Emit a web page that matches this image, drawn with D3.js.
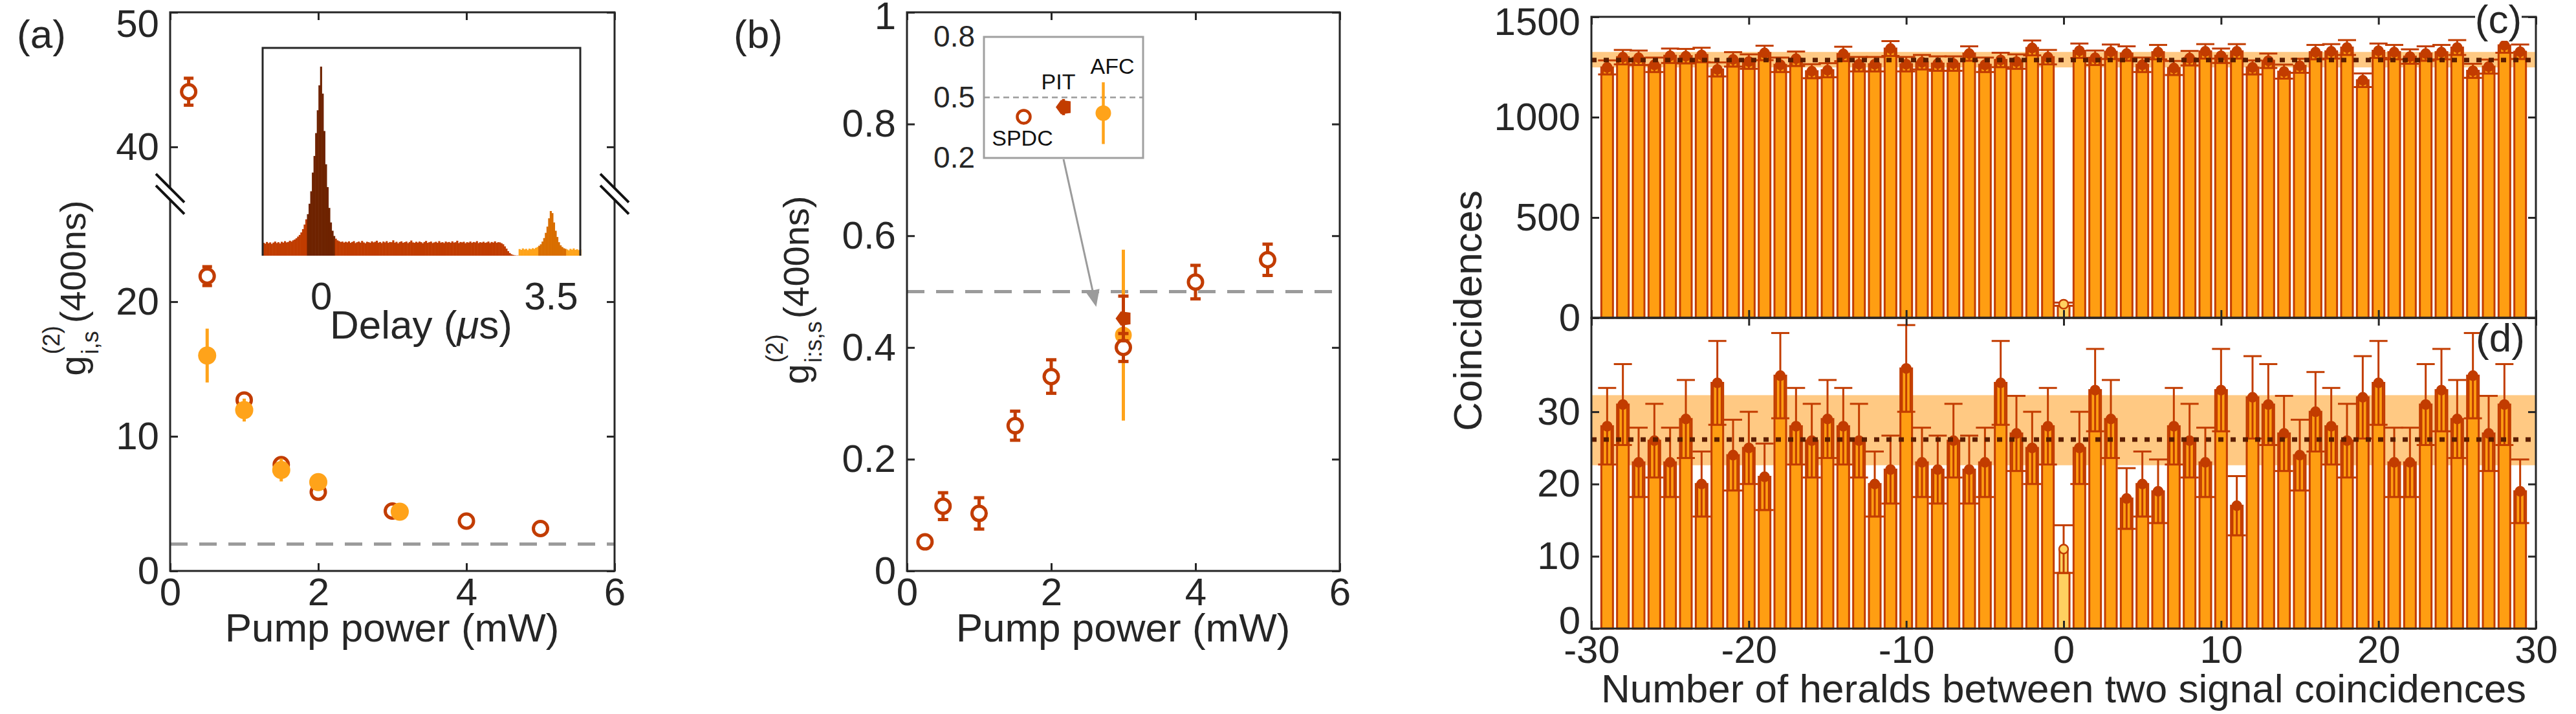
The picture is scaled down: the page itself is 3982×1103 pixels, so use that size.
<!DOCTYPE html>
<html>
<head>
<meta charset="utf-8">
<style>
body { margin: 0; background: #fff; width: 3982px; height: 1103px; overflow: hidden; }
svg { display: block; font-family: "Liberation Sans", Arial, Helvetica, sans-serif; }
</style>
</head>
<body>
<svg width="3982" height="1103"></svg>
<script src="https://d3js.org/d3.v7.min.js"></script>
<script>

// ---------------- data: panel (a) heralded g2 vs pump power
var powerSpdcA = [0.25, 0.5, 1, 1.5, 2, 3, 4, 5];
var g2SpdcA    = [44.1, 21.9, 12.7, 7.9, 5.85, 4.45, 3.7, 3.15];
var errSpdcA   = [1.0, 0.7, 0.3, 0.2, 0.15, 0.1, 0.08, 0.07];
var powerAfcA  = [0.5, 1, 1.5, 2, 3.1];
var g2AfcA     = [16.0, 11.95, 7.5, 6.6, 4.4];
var errAfcA    = [2.0, 0.85, 0.85, 0.3, 0.15];
var yTicksA    = [0, 10, 20, 40, 50];
var xTicksAB   = [0, 2, 4, 6];
var breakA     = [28, 36.5];   // y axis break
var classicA   = 2;            // dashed reference level

// inset of (a): delay histogram (counts, top of frame = 1000)
var histStart = -0.89, histStep = 0.025;
var histCounts = [
  62, 58, 66, 60, 64, 57, 63, 68, 61, 65, 59, 67, 63, 70, 64, 66, 72, 68, 74, 78, 84, 92,
  100, 112, 128, 150, 175,
  200, 250, 310, 400, 480, 590, 700, 820, 910, 780, 600, 440, 330, 230, 160, 120, 95,
  82, 74, 70, 66, 68, 63, 67, 64, 69, 62,
  66, 70, 61, 65, 68, 63, 71, 64, 60, 67,
  65, 62, 69, 64, 67, 72, 63, 66, 61, 68,
  64, 70, 62, 66, 65, 74, 63, 67, 60, 66,
  69, 62, 65, 68, 61, 66, 73, 64, 62, 67,
  63, 68, 65, 60, 66, 71, 62, 65, 68, 61,
  64, 67, 62, 70, 63, 65, 61, 68, 64, 66,
  62, 69, 63, 65, 72, 61, 66, 64, 67, 60,
  65, 63, 68, 62, 66, 64, 70, 61, 65, 63,
  67, 62, 64, 68, 61, 66, 63, 69, 62, 65, 64, 60,
  55, 45, 34, 22, 13, 7, 4, 2, 1, 1,
  32, 28, 35, 30, 33, 27, 34, 31, 36, 33, 38, 42,
  48, 55, 68, 85, 110, 140, 180, 215, 205, 160, 120, 90, 65, 50, 42, 36, 33,
  30, 26, 33, 29, 35, 28, 31, 27, 30
];
var histBands = [
  {from: -0.9,   to: -0.215, color: "#c03c00"},
  {from: -0.215, to: 0.21,   color: "#6e2300"},
  {from: 0.21,   to: 3.0,    color: "#c03c00"},
  {from: 3.0,    to: 3.31,   color: "#ffa41b"},
  {from: 3.31,   to: 3.735,  color: "#d96e00"},
  {from: 3.735,  to: 4.0,    color: "#ffa41b"}
];
var histTicks = [0, 3.5];

// ---------------- data: panel (b) cross-correlation g2 vs pump power
var powerSpdcB = [0.25, 0.5, 1, 1.5, 2, 3, 4, 5];
var g2SpdcB    = [0.052, 0.116, 0.103, 0.26, 0.348, 0.40, 0.517, 0.557];
var errSpdcB   = [0.006, 0.024, 0.028, 0.026, 0.03, 0.025, 0.03, 0.028];
var sourcesB   = ["SPDC", "PIT", "AFC"];
var powerSrcB  = [3, 3, 3];
var g2SrcB     = [0.404, 0.452, 0.422];
var errSrcB    = [0.01, 0.04, 0.153];
var yTicksB    = [0, 0.2, 0.4, 0.6, 0.8, 1];
var insetTicksB = [0.2, 0.5, 0.8];
var limitB     = 0.5;

// ---------------- data: panels (c),(d) coincidences vs heralds
var heraldOffsets = [-29, -28, -27, -26, -25, -24, -23, -22, -21, -20, -19, -18, -17, -16, -15,
  -14, -13, -12, -11, -10, -9, -8, -7, -6, -5, -4, -3, -2, -1, 0, 1, 2, 3, 4, 5, 6, 7, 8, 9,
  10, 11, 12, 13, 14, 15, 16, 17, 18, 19, 20, 21, 22, 23, 24, 25, 26, 27, 28, 29];
var countsC = [1248, 1299, 1296, 1261, 1306, 1304, 1310, 1238, 1288, 1277, 1320, 1261, 1291, 1229, 1234,
  1315, 1264, 1264, 1342, 1264, 1274, 1267, 1267, 1317, 1261, 1285, 1277, 1345, 1299, 68,
  1331, 1296, 1326, 1317, 1261, 1324, 1245, 1294, 1328, 1306, 1328, 1248, 1281, 1227, 1256,
  1324, 1328, 1347, 1184, 1331, 1324, 1302, 1317, 1324, 1347, 1231, 1252, 1358, 1326];
var errC = [35, 36, 36, 36, 36, 36, 36, 35, 36, 36, 36, 36, 36, 35, 35,
  36, 36, 36, 37, 36, 36, 36, 36, 36, 36, 36, 36, 37, 36, 8,
  36, 36, 36, 36, 36, 36, 35, 36, 36, 36, 36, 35, 36, 35, 35,
  36, 36, 37, 34, 36, 36, 36, 36, 36, 37, 35, 35, 37, 36];
var countsD = [28, 31, 23, 26, 23, 29, 20, 34, 24, 25, 21, 35, 28, 26, 29,
  28, 26, 20, 22, 36, 23, 22, 26, 22, 23, 34, 27, 25, 28, 11,
  25, 33, 29, 18, 20, 19, 28, 26, 23, 33, 17, 32, 31, 27, 24,
  30, 28, 26, 32, 34, 23, 23, 31, 33, 29, 35, 27, 31, 19];
var errD = [5.3, 5.6, 4.8, 5.1, 4.8, 5.4, 4.5, 5.8, 4.9, 5.0, 4.6, 5.9, 5.3, 5.1, 5.4,
  5.3, 5.1, 4.5, 4.7, 6.0, 4.8, 4.7, 5.1, 4.7, 4.8, 5.8, 5.2, 5.0, 5.3, 3.3,
  5.0, 5.7, 5.4, 4.2, 4.5, 4.4, 5.3, 5.1, 4.8, 5.7, 4.1, 5.7, 5.6, 5.2, 4.9,
  5.5, 5.3, 5.1, 5.7, 5.8, 4.8, 4.8, 5.6, 5.7, 5.4, 5.9, 5.2, 5.6, 4.4];
var meanC = 1285, bandC = [1248, 1325];
var meanD = 26.15, bandD = [22.6, 32.3];
var xTicksCD = [-30, -20, -10, 0, 10, 20, 30];
var yTicksC  = [0, 500, 1000, 1500];
var yTicksD  = [0, 10, 20, 30];

// ---------------- style
var FONT = '"Liberation Sans", Arial, Helvetica, sans-serif';
var ink = "#262626", rust = "#c23c00", amber = "#ffa31a", barOrange = "#ff9e12",
    pale = "#ffd160", bandColor = "#ffc983", darkBrown = "#5c1d00", gray = "#9b9b9b";

var svg = d3.select("svg");

function frame(x, y, xTicks, yTicks, o) {
  o = o || {};
  var fs = o.fontSize || 60;
  var xr = x.range(), yr = y.range();
  var L = xr[0], R = xr[xr.length - 1], B = yr[0], T = yr[yr.length - 1];
  var none = function () { return ""; };
  var g = svg.append("g").style("color", ink);
  var bottom = g.append("g").attr("transform", "translate(0," + B + ")")
    .call(d3.axisBottom(x).tickValues(xTicks).tickSizeInner(-12).tickSizeOuter(0).tickPadding(10)
      .tickFormat(o.xLabels === false ? none : String));
  var left = g.append("g").attr("transform", "translate(" + L + ",0)")
    .call(d3.axisLeft(y).tickValues(yTicks).tickSizeInner(-12).tickSizeOuter(0).tickPadding(17)
      .tickFormat(String));
  g.append("g").attr("transform", "translate(0," + T + ")")
    .call(d3.axisTop(x).tickValues(xTicks).tickSizeInner(-12).tickSizeOuter(0).tickFormat(none));
  g.append("g").attr("transform", "translate(" + R + ",0)")
    .call(d3.axisRight(y).tickValues(yTicks).tickSizeInner(-12).tickSizeOuter(0).tickFormat(none));
  g.selectAll(".domain").remove();
  g.selectAll(".tick line").attr("stroke-width", 3);
  g.selectAll(".tick text").attr("font-size", fs).attr("font-family", FONT).attr("fill", ink);
  g.append("rect").attr("x", L).attr("y", T).attr("width", R - L).attr("height", B - T)
    .attr("fill", "none").attr("stroke", ink).attr("stroke-width", 3);
  return {g: g, left: left, bottom: bottom};
}

function label(x, y, txt, fs, anchor) {
  return svg.append("text").attr("x", x).attr("y", y).attr("font-size", fs)
    .attr("text-anchor", anchor || "middle").attr("fill", ink).text(txt);
}

// rotated g^(2)_sub label with stacked super/subscript
function g2Label(cx, cy, sub, rest) {
  var outer = svg.append("g").attr("transform", "translate(" + cx + "," + cy + ") rotate(-90)");
  var g = outer.append("g").attr("fill", ink);
  var t0 = g.append("text").attr("font-size", 56).text("g");
  var w0 = t0.node().getComputedTextLength();
  var sup = g.append("text").attr("font-size", 36).attr("x", w0 + 2).attr("y", -40).text("(2)");
  var sb = g.append("text").attr("font-size", 36).attr("x", w0 + 2).attr("y", 20).text(sub);
  var w1 = Math.max(sup.node().getComputedTextLength(), sb.node().getComputedTextLength());
  var t2 = g.append("text").attr("font-size", 56).attr("x", w0 + w1 + 6).text(rest);
  var total = w0 + w1 + 6 + t2.node().getComputedTextLength();
  g.attr("transform", "translate(" + (-total / 2) + ",0)");
}

function errBars(g, rows, x, y, color, width, cap) {
  g.selectAll(null).data(rows).join("line")
    .attr("x1", d => x(d.x)).attr("x2", d => x(d.x))
    .attr("y1", d => y(d.v - d.e)).attr("y2", d => y(d.v + d.e))
    .attr("stroke", color).attr("stroke-width", width);
  if (cap) {
    [-1, 1].forEach(function (s) {
      g.selectAll(null).data(rows).join("line")
        .attr("x1", d => x(d.x) - cap / 2).attr("x2", d => x(d.x) + cap / 2)
        .attr("y1", d => y(d.v + s * d.e)).attr("y2", d => y(d.v + s * d.e))
        .attr("stroke", color).attr("stroke-width", width);
    });
  }
}

function rowsOf(xs, vs, es) {
  return xs.map(function (p, i) { return {x: p, v: vs[i], e: es[i]}; });
}

// ======================= panel (a)
var xA = d3.scaleLinear().domain([0, 6]).range([263, 950]);
var yA = d3.scaleLinear().domain([0, breakA[0], breakA[1], 50]).range([882, 299.7, 299.7, 19]);
var gA = svg.append("g");

gA.append("line").attr("x1", xA(0)).attr("x2", xA(6)).attr("y1", yA(classicA)).attr("y2", yA(classicA))
  .attr("stroke", gray).attr("stroke-width", 5).attr("stroke-dasharray", "27 18");

// inset histogram
var xH = d3.scaleLinear().domain([-0.89, 3.95]).range([406, 897]);
var yH = d3.scaleLinear().domain([0, 1000]).range([395, 74]);
var binW = xH(histStep) - xH(0);
gA.selectAll(".bin").data(histCounts).join("rect")
  .attr("x", (d, i) => xH(histStart + i * histStep))
  .attr("width", binW + 0.6)
  .attr("y", d => yH(d)).attr("height", d => yH(0) - yH(d))
  .attr("fill", function (d, i) {
    var c = histStart + (i + 0.5) * histStep;
    return histBands.find(b => c >= b.from && c < b.to).color;
  });
gA.append("path")
  .attr("d", "M" + xH.range()[0] + "," + yH(0) + "V" + yH(1000) + "H" + xH.range()[1] + "V" + yH(0))
  .attr("fill", "none").attr("stroke", ink).attr("stroke-width", 3);
gA.append("g").attr("transform", "translate(0," + yH(0) + ")")
  .call(d3.axisBottom(xH).tickValues(histTicks).tickSize(0).tickPadding(40).tickFormat(String))
  .call(g => g.select(".domain").remove())
  .call(g => g.selectAll("text").attr("font-size", 60).attr("font-family", FONT).attr("fill", ink));
var dl = label(651, 523, "Delay (", 62);
dl.append("tspan").attr("font-style", "italic").text("\u03bc");
dl.append("tspan").text("s)");

// data points
var rowsSpdcA = rowsOf(powerSpdcA, g2SpdcA, errSpdcA);
var rowsAfcA = rowsOf(powerAfcA, g2AfcA, errAfcA);
errBars(gA, rowsSpdcA, xA, yA, rust, 5, 15);
gA.selectAll(".spdcA").data(rowsSpdcA).join("circle")
  .attr("cx", d => xA(d.x)).attr("cy", d => yA(d.v)).attr("r", 11)
  .attr("fill", "#fff").attr("stroke", rust).attr("stroke-width", 5);
errBars(gA, rowsAfcA, xA, yA, amber, 5, 0);
gA.selectAll(".afcA").data(rowsAfcA).join("circle")
  .attr("cx", d => xA(d.x)).attr("cy", d => yA(d.v)).attr("r", 14).attr("fill", amber);

var fA = frame(xA, yA, xTicksAB, yTicksA);
fA.left.selectAll(".tick").filter(d => d === 50).select("text").attr("dy", "0.62em");

// axis break marks
[xA(0), xA(6)].forEach(function (ax) {
  var yc = yA(breakA[0]);
  svg.append("path")
    .attr("d", "M" + (ax - 22) + "," + (yc - 31) + "L" + (ax + 22) + "," + (yc + 13) +
               "L" + (ax + 22) + "," + (yc + 31) + "L" + (ax - 22) + "," + (yc - 13) + "Z")
    .attr("fill", "#fff");
  [-9, 9].forEach(function (o) {
    svg.append("line").attr("x1", ax - 22).attr("y1", yc + o - 22).attr("x2", ax + 22).attr("y2", yc + o + 22)
      .attr("stroke", "#111").attr("stroke-width", 4);
  });
});

label(64, 74, "(a)", 62);
label(606, 991, "Pump power (mW)", 62);
g2Label(132, 445, "i,s", "(400ns)");

// ======================= panel (b)
var xB = d3.scaleLinear().domain([0, 6]).range([1402, 2071]);
var yB = d3.scaleLinear().domain([0, 1]).range([882, 19]);
var gB = svg.append("g");

gB.append("line").attr("x1", xB(0)).attr("x2", xB(6)).attr("y1", yB(limitB)).attr("y2", yB(limitB))
  .attr("stroke", gray).attr("stroke-width", 5).attr("stroke-dasharray", "27 18");

// inset
var xI = d3.scalePoint().domain(sourcesB).range([1521, 1767]).padding(1);
var yI = d3.scaleLinear().domain([0.2, 0.8]).range([244, 57]);
gB.append("rect").attr("x", 1521).attr("y", yI(0.8)).attr("width", 246).attr("height", yI(0.2) - yI(0.8))
  .attr("fill", "#fff").attr("stroke", "#a0a0a0").attr("stroke-width", 3);
gB.append("line").attr("x1", 1521).attr("x2", 1767).attr("y1", yI(limitB)).attr("y2", yI(limitB))
  .attr("stroke", gray).attr("stroke-width", 2.5).attr("stroke-dasharray", "9 6");
gB.append("g").attr("transform", "translate(1521,0)")
  .call(d3.axisLeft(yI).tickValues(insetTicksB).tickSize(0).tickPadding(14).tickFormat(String))
  .call(g => g.select(".domain").remove())
  .call(g => g.selectAll("text").attr("font-size", 46).attr("font-family", FONT).attr("fill", ink));

var pentagon = "M-12,0L-4,-11L11,-9L11,9L-4,11Z";
// AFC in inset
gB.append("line").attr("x1", xI("AFC")).attr("x2", xI("AFC"))
  .attr("y1", yI(g2SrcB[2] - errSrcB[2])).attr("y2", yI(g2SrcB[2] + errSrcB[2]))
  .attr("stroke", amber).attr("stroke-width", 4.5);
gB.append("circle").attr("cx", xI("AFC")).attr("cy", yI(g2SrcB[2])).attr("r", 12).attr("fill", amber);
gB.append("circle").attr("cx", xI("SPDC")).attr("cy", yI(g2SrcB[0])).attr("r", 10)
  .attr("fill", "#fff").attr("stroke", rust).attr("stroke-width", 4.5);
gB.append("line").attr("x1", xI("PIT")).attr("x2", xI("PIT"))
  .attr("y1", yI(g2SrcB[1] - errSrcB[1])).attr("y2", yI(g2SrcB[1] + errSrcB[1]))
  .attr("stroke", rust).attr("stroke-width", 4.5);
gB.append("path").attr("transform", "translate(" + xI("PIT") + "," + yI(g2SrcB[1]) + ")")
  .attr("d", pentagon).attr("fill", rust);
gB.append("text").attr("x", xI("SPDC") - 2).attr("y", yI(g2SrcB[0]) + 45).attr("font-size", 34)
  .attr("text-anchor", "middle").attr("fill", "#111").text("SPDC");
gB.append("text").attr("x", xI("PIT") - 8).attr("y", yI(g2SrcB[1]) - 27).attr("font-size", 34)
  .attr("text-anchor", "middle").attr("fill", "#111").text("PIT");
gB.append("text").attr("x", xI("AFC") + 14).attr("y", yI(g2SrcB[2] + errSrcB[2]) - 13).attr("font-size", 34)
  .attr("text-anchor", "middle").attr("fill", "#111").text("AFC");

// arrow from inset to the point
(function () {
  var p0 = [xI("PIT"), yI(0.2) + 2];
  var p1 = [xB(powerSrcB[1]) - 42, yB(g2SrcB[1]) - 18];
  var dx = p1[0] - p0[0], dy = p1[1] - p0[1], len = Math.sqrt(dx * dx + dy * dy);
  var ux = dx / len, uy = dy / len, bx = p1[0] - ux * 26, by = p1[1] - uy * 26;
  gB.append("line").attr("x1", p0[0]).attr("y1", p0[1]).attr("x2", bx).attr("y2", by)
    .attr("stroke", gray).attr("stroke-width", 3);
  gB.append("path").attr("d", "M" + p1[0] + "," + p1[1] + "L" + (bx - uy * 11) + "," + (by + ux * 11) +
    "L" + (bx + uy * 11) + "," + (by - ux * 11) + "Z").attr("fill", gray);
})();

// main points
var rowsSpdcB = rowsOf(powerSpdcB, g2SpdcB, errSpdcB);
gB.append("line").attr("x1", xB(powerSrcB[2])).attr("x2", xB(powerSrcB[2]))
  .attr("y1", yB(g2SrcB[2] - errSrcB[2])).attr("y2", yB(g2SrcB[2] + errSrcB[2]))
  .attr("stroke", amber).attr("stroke-width", 5);
gB.append("circle").attr("cx", xB(powerSrcB[2])).attr("cy", yB(g2SrcB[2])).attr("r", 13).attr("fill", amber);
errBars(gB, rowsSpdcB, xB, yB, rust, 5, 16);
gB.selectAll(".spdcB").data(rowsSpdcB).join("circle")
  .attr("cx", d => xB(d.x)).attr("cy", d => yB(d.v)).attr("r", 11)
  .attr("fill", "#fff").attr("stroke", rust).attr("stroke-width", 5);
errBars(gB, [{x: powerSrcB[1], v: g2SrcB[1], e: errSrcB[1]}], xB, yB, rust, 5, 16);
gB.append("path").attr("transform", "translate(" + xB(powerSrcB[1]) + "," + yB(g2SrcB[1]) + ")")
  .attr("d", pentagon).attr("fill", rust);

var fB = frame(xB, yB, xTicksAB, yTicksB);
fB.left.selectAll(".tick").filter(d => d === 1).select("text").attr("dy", "0.42em");
label(1172, 74, "(b)", 62);
label(1736, 991, "Pump power (mW)", 62);
g2Label(1250, 448, "i:s,s", " (400ns)");

// ======================= panels (c) and (d)
var xC = d3.scaleLinear().domain([-30, 30]).range([2460, 3920]);
var yC = d3.scaleLinear().domain([0, 1500]).range([491, 26]);
var yD = d3.scaleLinear().domain([0, 43]).range([971, 491]);

function barPanel(y, counts, errs, mean, band) {
  var unit = xC(1) - xC(0);
  var bw = 0.74 * unit, nw = 0.53 * unit, cw = 1.15 * unit;
  var g = svg.append("g");
  g.append("rect").attr("x", xC(-30)).attr("width", xC(30) - xC(-30))
    .attr("y", y(band[1])).attr("height", y(band[0]) - y(band[1])).attr("fill", bandColor);
  var rows = heraldOffsets.map(function (k, i) { return {x: k, v: counts[i], e: errs[i], zero: k === 0}; });
  var top = d => d.zero ? d.v - d.e : d.v;
  g.selectAll(".bar").data(rows).join("rect")
    .attr("x", d => xC(d.x) - bw / 2).attr("width", bw)
    .attr("y", d => y(top(d))).attr("height", d => y(0) - y(top(d)))
    .attr("fill", d => d.zero ? pale : barOrange).attr("stroke", rust).attr("stroke-width", 3);
  g.selectAll(".inner").data(rows).join("rect")
    .attr("x", d => xC(d.x) - nw / 2).attr("width", nw)
    .attr("y", d => y(d.v)).attr("height", d => y(d.v - d.e) - y(d.v))
    .attr("fill", d => d.zero ? pale : "none").attr("stroke", rust).attr("stroke-width", 2.5);
  errBars(g, rows, xC, y, rust, 3, cw);
  g.selectAll(".dot").data(rows).join("circle")
    .attr("cx", d => xC(d.x)).attr("cy", d => y(d.v)).attr("r", 7)
    .attr("fill", d => d.zero ? pale : rust).attr("stroke", rust).attr("stroke-width", 2.5);
  g.append("line").attr("x1", xC(-30)).attr("x2", xC(30)).attr("y1", y(mean)).attr("y2", y(mean))
    .attr("stroke", darkBrown).attr("stroke-width", 7).attr("stroke-dasharray", "8 11");
}

barPanel(yC, countsC, errC, meanC, bandC);
barPanel(yD, countsD, errD, meanD, bandD);

var fC = frame(xC, yC, xTicksCD, yTicksC, {xLabels: false});
fC.left.selectAll(".tick").filter(d => d === 1500).select("text").attr("dy", "0.45em");
var fD = frame(xC, yD, xTicksCD, yTicksD);
fD.left.selectAll(".tick").filter(d => d === 0).select("text").attr("dy", "0.12em");

svg.append("rect").attr("x", 3826).attr("y", 0).attr("width", 72).attr("height", 63).attr("fill", "#fff");
label(3862, 51, "(c)", 62);
label(3865, 543, "(d)", 62);
label(3190, 1085, "Number of heralds between two signal coincidences", 62);
label(0, 0, "Coincidences", 62).attr("transform", "translate(2290,480) rotate(-90)");

</script>
</body>
</html>
